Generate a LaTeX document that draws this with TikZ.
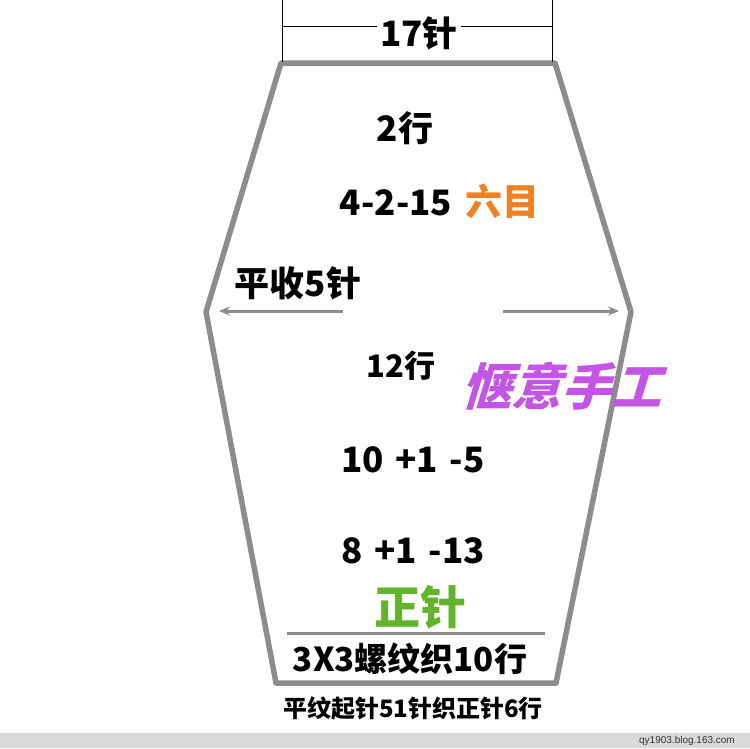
\documentclass[tikz,border=0pt]{standalone}
\usepackage{fontspec}
\setmainfont{Noto Sans CJK SC}
\newfontfamily\slantf{Noto Sans CJK SC}[FakeSlant=0.3,BoldFeatures={FakeSlant=0.3}]
\newfontfamily\webf{Liberation Sans}
\definecolor{outl}{HTML}{8C8C8C}
\definecolor{orng}{HTML}{F08020}
\definecolor{purp}{HTML}{C354E6}
\definecolor{grn}{HTML}{62B52A}
\definecolor{strip}{HTML}{D9D9D9}
\tikzset{
  lbl/.style={inner sep=0pt, font=\bfseries\fontsize{35}{35}\selectfont, text=black},
  midlbl/.style={inner sep=0pt, font=\bfseries\fontsize{31}{31}\selectfont, text=black},
  smalllbl/.style={inner sep=0pt, font=\bfseries\fontsize{24}{24}\selectfont, text=black},
  outline/.style={draw=outl, line width=5.5pt, line join=round},
  ribline/.style={draw=outl, line width=3pt},
  dimline/.style={draw=black, line width=0.7pt},
  arrowline/.style={draw=outl, line width=3pt, -{Stealth[length=11pt,width=9pt]}}
}
\usetikzlibrary{arrows.meta}
\begin{document}
\begin{tikzpicture}[x=1pt,y=-1pt]
\useasboundingbox (0,0) rectangle (750,748);
\fill[white] (0,0) rectangle (750,748);
\fill[strip] (0,733) rectangle (750,748);
% outline
\coordinate (tl) at (281,63);
\coordinate (tr) at (555,63);
\coordinate (mr) at (631,312);
\coordinate (br) at (556,683);
\coordinate (bl) at (276,683);
\coordinate (ml) at (206,312);
\draw[outline] (tl) -- (tr) -- (mr) -- (br) -- (bl) -- (ml) -- cycle;
% rib line
\coordinate (ribl) at (287,633);
\coordinate (ribr) at (545,633);
\draw[ribline] (ribl) -- (ribr);
% dimension lines
\coordinate (dl0) at (282,0);
\coordinate (dl1) at (282,62);
\coordinate (dr0) at (552,0);
\coordinate (dr1) at (552,62);
\draw[dimline] (dl0) -- (dl1);
\draw[dimline] (dr0) -- (dr1);
\coordinate (dh0) at (282,26);
\coordinate (dh1) at (552,26);
\draw[dimline] (dh0) -- (dh1);
\node[lbl, fill=white, inner xsep=3pt, inner ysep=0pt] (w17) at (419,33) {17针};
% arrows
\coordinate (la0) at (343,311);
\coordinate (la1) at (219,311);
\coordinate (ra0) at (503,311);
\coordinate (ra1) at (619,311);
\draw[arrowline] (la0) -- (la1);
\draw[arrowline] (ra0) -- (ra1);
% labels
\node[lbl] (r2) at (405,128) {2行};
\node[lbl] (dec) at (396,203) {4-2-15};
\node[lbl, text=orng, font=\bfseries\fontsize{37}{37}\selectfont] (six) at (502,201) {六目};
\node[lbl] (bind) at (298,283) {平收5针};
\node[midlbl] (r12) at (401,366) {12行};
\node[inner sep=0pt, text=purp, font=\slantf\bfseries\fontsize{50}{50}\selectfont] (brand) at (561,386) {惬意手工};
\node[lbl] (inc1) at (413,460) {10\,\,+1\,\,-5};
\node[lbl] (inc2) at (413,551) {8\,\,+1\,\,-13};
\node[inner sep=0pt, text=grn, font=\bfseries\fontsize{46}{46}\selectfont] (knit) at (420,607) {正针};
\node[midlbl, font=\bfseries\fontsize{33}{33}\selectfont] (rib) at (410,659) {3X3螺纹织10行};
\node[smalllbl] (cast) at (413,708) {平纹起针51针织正针6行};
\node[inner sep=0pt, anchor=east, font=\webf\fontsize{10}{10}\selectfont, text=black!80] (url) at (735,741) {qy1903.blog.163.com};
\end{tikzpicture}
\end{document}
